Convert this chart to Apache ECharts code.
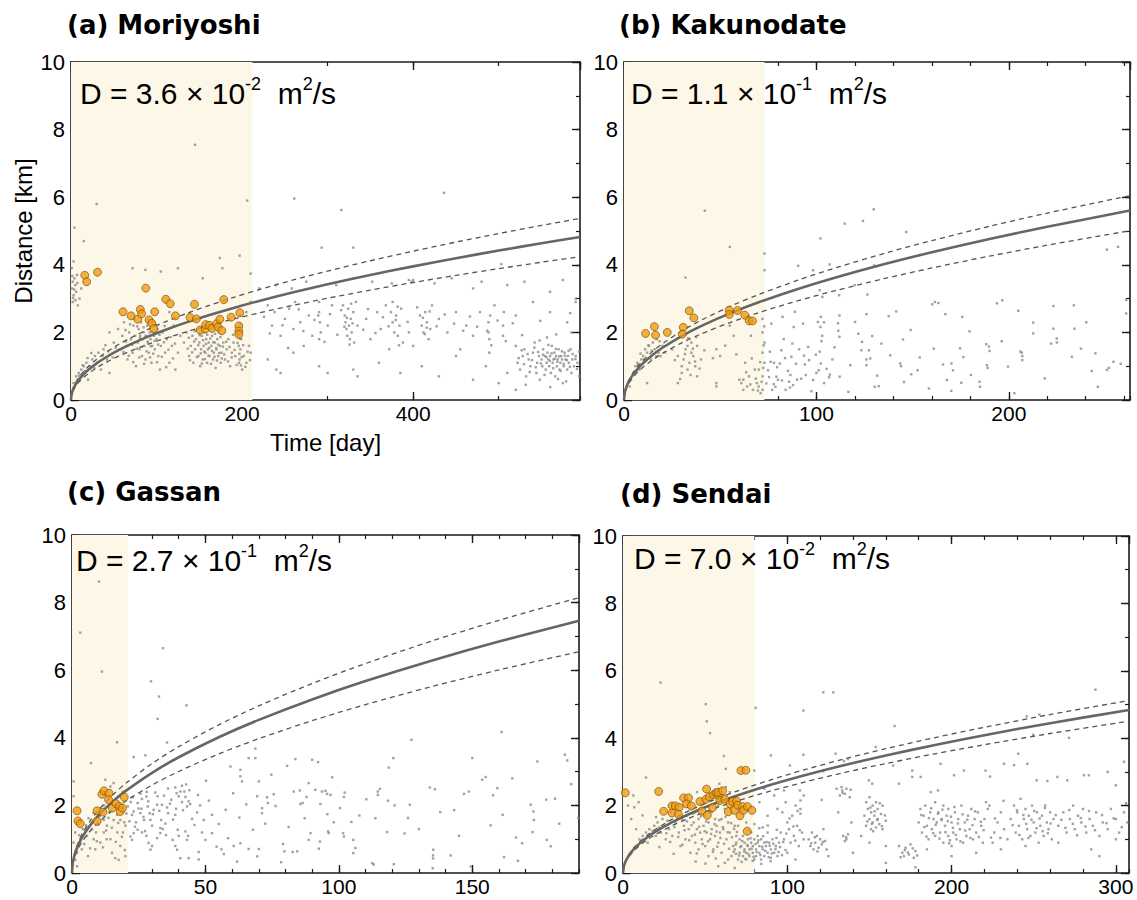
<!DOCTYPE html>
<html><head><meta charset="utf-8">
<script src="https://cdn.jsdelivr.net/npm/echarts@6.0.0/dist/echarts.min.js"></script>
<style>html,body{margin:0;padding:0;background:#fff}#chart{width:1137px;height:900px}</style>
</head><body><div id="chart"></div>
<script>
// ---------------- DATA ----------------
const panelTitles = ['(a) Moriyoshi', '(b) Kakunodate', '(c) Gassan', '(d) Sendai'];
const dCoef = ['3.6', '1.1', '2.7', '7.0'];
const dExp = ['-2', '-1', '-1', '-2'];
const xMaxes = [595, 263, 190, 308];
const xMajorSteps = [200, 100, 50, 100];
const xMinorSteps = [100, 20, 10, 20];
const shadeEnds = [212, 73, 21, 80];
const yTicks = [0, 2, 4, 6, 8, 10];

// fitted diffusion curves (time [day], distance [km])
const tA = [0,0.5,1,2,4,7,10,15,20,30,40,55,70,90,110,135,160,190,220,260,300,350,400,450,500,550,595];
const solidA = [0,0.140,0.198,0.280,0.395,0.523,0.625,0.766,0.884,1.083,1.250,1.466,1.654,1.876,2.073,2.297,2.501,2.725,2.932,3.188,3.424,3.699,3.954,4.194,4.421,4.636,4.822];
const upperA = [0,0.156,0.220,0.311,0.440,0.583,0.696,0.853,0.985,1.206,1.393,1.633,1.842,2.089,2.309,2.558,2.785,3.035,3.266,3.551,3.814,4.120,4.404,4.671,4.924,5.164,5.371];
const lowerA = [0,0.123,0.174,0.246,0.348,0.460,0.550,0.673,0.777,0.952,1.099,1.289,1.454,1.649,1.823,2.019,2.198,2.396,2.578,2.803,3.010,3.251,3.476,3.687,3.886,4.076,4.240];

const tB = [0,0.5,1,2,4,7,10,15,20,30,40,55,70,90,110,135,160,190,220,263];
const solidB = [0,0.244,0.346,0.489,0.691,0.914,1.093,1.338,1.546,1.893,2.186,2.563,2.892,3.279,3.625,4.016,4.372,4.764,5.126,5.605];
const upperB = [0,0.264,0.373,0.527,0.746,0.986,1.179,1.444,1.667,2.042,2.358,2.765,3.119,3.537,3.910,4.332,4.716,5.139,5.529,6.046];
const lowerB = [0,0.218,0.309,0.437,0.618,0.817,0.976,1.196,1.381,1.691,1.953,2.290,2.584,2.930,3.239,3.588,3.906,4.257,4.580,5.008];

const tC = [0,0.25,0.5,1,2,4,7,10,15,20,30,40,55,70,90,110,135,160,190];
const solidC = [0,0.271,0.383,0.541,0.766,1.083,1.432,1.712,2.097,2.421,2.965,3.424,4.015,4.530,5.136,5.678,6.290,6.848,7.463];
const upperC = [0,0.296,0.418,0.591,0.836,1.182,1.564,1.869,2.289,2.643,3.237,3.738,4.383,4.945,5.607,6.198,6.867,7.476,8.146];
const lowerC = [0,0.238,0.336,0.475,0.672,0.950,1.257,1.502,1.840,2.124,2.602,3.004,3.523,3.974,4.506,4.982,5.519,6.008,6.547];

const tD = [0,0.5,1,2,4,7,10,15,20,30,40,55,70,90,110,135,160,190,220,260,308];
const solidD = [0,0.195,0.276,0.390,0.551,0.729,0.872,1.068,1.233,1.510,1.744,2.045,2.307,2.616,2.892,3.203,3.487,3.800,4.089,4.446,4.839];
const upperD = [0,0.206,0.292,0.412,0.583,0.772,0.922,1.129,1.304,1.597,1.844,2.163,2.440,2.766,3.058,3.388,3.689,4.019,4.325,4.702,5.118];
const lowerD = [0,0.182,0.257,0.363,0.513,0.679,0.812,0.994,1.148,1.406,1.624,1.904,2.148,2.435,2.692,2.983,3.247,3.538,3.807,4.139,4.505];

// orange (highlighted) events [day, km]
const orangeA = [[16.1,3.69],[18.3,3.5],[31,3.78],[60.8,2.61],[70.2,2.49],[78,2.39],[81,2.68],[82.6,2.55],[87.4,3.31],[91.2,2.37],[94.4,2.27],[96.7,2.11],[97.9,2.61],[110.8,2.98],[116,2.85],[122.1,2.49],[139.2,2.44],[146.6,2.4],[144.3,2.83],[150.9,2.07],[157,2.1],[157.4,2.23],[161.7,2.21],[164.8,2.12],[170.3,2.26],[171.8,2.16],[174.1,2.39],[176.3,2.05],[178.6,2.97],[187.2,2.45],[197.3,2.58],[196.2,2.19],[196.2,2.04],[196.2,1.94]];
const orangeB = [[11.2,1.97],[15.8,2.17],[16.4,1.92],[22.5,2.0],[30.8,2.15],[30.3,1.95],[33.9,2.64],[36.3,2.43],[54.7,2.66],[54.7,2.53],[59,2.65],[62.8,2.51],[65.1,2.34],[66.8,2.34]];
const orangeC = [[1.9,1.84],[2.2,1.54],[3.1,1.46],[9.4,1.84],[9.4,1.53],[11.6,1.8],[11.2,2.33],[12,2.43],[13.9,2.36],[13.7,2.17],[15.1,1.92],[16.5,2.05],[17.7,1.97],[18.1,1.82],[18.9,1.92],[19.6,2.24]];
const orangeD = [[1.4,2.38],[21.7,2.42],[24.7,1.83],[29.8,1.99],[29.8,1.78],[31.8,1.99],[34.2,1.95],[33.8,1.74],[36.9,2.23],[39.9,2.23],[38.7,2.05],[41.6,1.99],[46.8,2.12],[48,1.84],[50.9,2.49],[50.5,2.19],[51.3,1.71],[52.5,2.26],[54.5,1.94],[55.1,2.32],[56.6,2.38],[58.2,2.3],[57.8,2.4],[60.6,2.44],[59,2.15],[62,2.19],[64.1,1.82],[65.1,2.05],[66.7,2.12],[67.9,1.86],[69.1,2.13],[69.8,2.01],[71.2,1.7],[72.8,1.97],[73.4,1.86],[75.6,1.24],[75.8,1.97],[78.5,1.86],[71.8,3.04],[74.8,3.05]];

// gray (all) events [day, km]
const grayA = [[1,3.3],[2,3.5],[3,3.1],[4,3.6],[2,2.9],[5,3.4],[6,3.2],[3,4.1],[4,5.1],[15,4.7],[30,5.8],[8,2.8],[10,3.0],[12,3.3],[1,3.9],[7,3.7],
[3,0.5],[6,0.7],[9,0.8],[12,0.9],[15,1.0],[18,1.1],[22,1.0],[25,1.2],[28,1.3],[32,1.4],[20,0.6],[35,0.9],[38,1.5],[42,1.2],[45,0.8],
[45,2.0],[50,1.7],[55,2.1],[58,1.5],[60,1.9],[62,2.3],[65,1.6],[66,1.2],[68,2.0],[70,1.8],[72,1.4],[73,2.2],[75,1.9],[76,1.0],[78,1.7],[79,2.1],[80,1.5],[81,1.9],[82,2.3],[83,1.3],[84,1.8],[85,2.0],[86,1.6],[87,1.2],[88,1.9],[89,2.2],[90,1.7],[91,1.4],[92,2.0],[93,1.8],[94,1.1],[95,1.6],[96,2.3],[97,1.9],[98,1.5],[100,1.8],[101,2.1],[102,1.3],[104,0.9],[105,1.6],[107,2.0],[110,1.4],[112,1.8],[115,1.1],[118,1.6],[120,2.2],[122,0.9],[125,1.4],[128,1.9],[115,2.6],[72,3.9],[87,3.85],[105,3.8],[125,3.9],[145,7.55],
[132,1.7],[135,2.0],[138,1.3],[140,1.6],[142,1.9],[143,1.1],[145,1.5],[146,1.8],[148,2.1],[149,1.3],[150,1.7],[151,1.0],[152,1.5],[153,1.9],[154,1.2],[155,1.6],[156,2.0],[157,1.4],[158,1.8],[159,1.1],[160,1.5],[161,1.7],[162,1.3],[163,2.1],[164,1.6],[165,1.9],[166,1.2],[167,1.4],[168,1.7],[169,0.95],[170,1.5],[171,1.8],[172,1.3],[173,2.0],[174,1.6],[175,1.1],[176,1.4],[178,1.7],[180,1.2],[182,1.5],[184,1.8],[186,1.0],[188,1.4],[190,1.7],[192,1.3],[195,1.9],[196,1.6],[197,1.2],[198,2.0],[198,1.5],[199,1.8],[200,0.9],[202,1.3],[205,1.1],[208,1.6],[210,1.4],
[154,3.6],[174,4.2],[177,3.9],[197,4.27],[210,3.74],[206,5.9],[198,2.5],[205,2.6],[185,2.4],[210,2.9],
[261,5.96],[316,5.62],[436,6.13],[293,4.51],[330,4.51],[503,4.02],
[220,3.3],[240,3.4],[258,3.3],[275,3.5],[310,3.4],[330,3.6],[352,3.5],[375,3.45],[395,3.55],[398,3.5],[400,3.55],[425,3.45],[445,3.6],[470,3.3],[480,3.5],[510,3.4],[530,3.5],[560,3.2],[575,3.55],[590,3.0],
[290,2.9],[290,2.6],[291,2.3],[292,2.0],[290,1.8],[289,2.5],
[318,2.8],[320,2.5],[321,2.3],[322,2.1],[323,1.9],[324,2.7],[325,2.2],[326,1.8],[327,2.4],[328,2.0],[330,2.6],[331,1.7],[333,2.9],[335,2.2],
[230,2.8],[235,2.2],[238,2.6],[245,1.9],[250,2.4],[255,2.7],[260,2.1],[262,2.9],[268,2.3],[272,1.6],[278,2.5],[282,1.9],[300,2.2],[305,2.8],[345,2.4],[350,1.8],[358,2.6],[362,2.1],[368,2.8],[372,1.5],
[374,2.6],[376,2.3],[378,2.0],[380,2.5],[382,1.9],[384,2.2],[386,2.7],[388,1.7],[376,2.9],
[408,2.5],[410,2.2],[412,2.0],[414,2.6],[416,2.3],[418,1.8],[420,2.1],[422,2.8],
[395,2.0],[400,1.6],[430,2.4],[440,2.0],[450,2.6],[455,1.5],[462,2.2],[470,1.9],[478,2.6],
[488,2.3],[488,2.0],[489,1.8],[490,2.5],[489,1.4],[505,2.2],[505,1.9],[506,2.6],
[495,2.8],[520,2.5],[540,2.9],[560,2.6],[580,2.3],[590,2.9],[585,2.0],
[230,1.2],[240,0.9],[245,0.8],[260,1.4],[290,1.0],[300,0.8],[330,0.9],[335,0.7],[360,1.1],[385,0.8],[410,1.0],[430,0.7],[450,1.3],[470,0.6],[485,1.0],[500,0.5],[510,0.8],[520,0.3],
[520,1.6],[522,1.1],[525,0.9],[528,1.3],[530,1.5],[532,0.7],[535,1.2],[537,1.0],[540,1.4],[542,1.7],[544,0.8],[545,1.1],[547,1.3],[548,0.6],[550,1.2],[551,1.0],[552,1.5],[554,1.3],[555,0.9],[556,1.1],[557,1.4],[558,1.2],[559,1.0],[560,1.3],[561,0.8],[562,1.6],[563,1.1],[564,1.2],[565,1.4],[566,0.7],[567,1.3],[568,1.0],[569,1.2],[570,1.5],[571,0.9],[572,1.1],[573,1.3],[574,1.2],[575,0.5],[576,1.0],[577,1.4],[578,1.2],[580,0.9],[581,1.3],[582,1.1],[584,1.5],[585,0.8],[586,1.2],[588,1.0],[590,1.3],[592,1.1],[594,0.7],
[61.3,1.42],[63.7,2.07],[64.2,1.73],[67.5,1.31],[69.1,2.24],[71.6,1.63],[72.8,1.12],[74.3,2.41],[76.9,1.52],[77.4,2.18],[79.8,1.26],[80.6,1.83],[82.7,1.57],[84.9,2.15],[85.4,1.07],[86.8,1.88],[88.3,1.44],[89.6,1.72],[90.7,2.36],[92.4,1.26],[93.2,1.59],[94.8,2.03],[96.1,1.37],[97.7,1.75],[99.3,2.22],[100.6,1.12],[101.8,1.64],[103.4,1.93],[106.2,1.28],[108.7,1.71],[109.5,2.19],[111.3,0.97],[113.9,1.49],[116.4,1.86],[119.2,1.23],[121.5,1.67],
[136.4,1.52],[137.8,1.84],[139.1,1.18],[141.6,1.41],[143.9,1.73],[144.7,2.04],[147.2,1.27],[148.8,1.62],[150.3,1.92],[151.7,1.38],[152.9,1.08],[154.4,1.77],[155.8,1.43],[156.6,1.21],[157.9,1.66],[159.2,1.93],[160.7,1.31],[161.5,1.54],[162.8,1.82],[163.6,1.07],[164.9,1.45],[166.3,1.71],[167.7,1.28],[168.4,1.96],[169.8,1.53],[170.6,1.17],[171.9,1.64],[173.3,1.39],[174.7,1.86],[176.2,1.23],[177.5,1.58],[179.1,1.35],[181.4,1.72],[183.6,1.14],[185.3,1.57],[187.9,1.26],[189.4,1.93],[191.2,1.48],[193.7,1.04],[194.6,1.69],[196.8,1.37],[197.4,1.81],[198.6,1.02],[199.5,1.27],[201.3,1.62],[203.8,0.98],[206.4,1.43],[209.1,1.18],[196.5,1.1],[198.2,2.25],
[2.4,3.02],[3.6,3.27],[5.2,2.95],[7.4,3.46],[1.6,3.67],[9.5,0.72],[13.6,1.03],[16.2,0.86],[19.4,1.24],[23.7,1.39],[27.2,0.94],[31.4,1.12],[36.8,1.31],[40.2,1.62],[43.5,1.44],[48.7,1.26],[52.4,1.55],
[225.6,2.46],[232.4,1.97],[247.3,2.21],[253.8,1.54],[266.2,2.68],[271.5,2.04],[284.6,2.37],[296.3,1.72],[302.7,2.54],[311.4,1.93],[315.8,2.66],[319.6,2.17],[322.5,2.43],[325.7,1.64],[327.4,2.85],[329.1,2.27],[341.6,2.08],[347.2,2.69],[355.9,1.98],[364.7,2.45],[371.3,2.18],[379.6,2.37],[381.8,2.76],[383.4,1.62],[393.5,2.31],[404.7,2.74],[411.3,2.43],[413.6,1.95],[415.8,2.14],[419.2,2.62],[427.4,2.18],[436.9,2.53],[447.8,2.26],[458.4,2.05],[466.3,2.47],[474.8,2.17],[486.5,2.05],[491.3,1.62],[498.6,2.35],[508.2,1.74],[516.4,2.27],[527.3,1.92],[548.6,2.34],[567.2,1.94],[583.5,2.57],
[523.4,1.24],[526.8,1.47],[529.5,1.06],[533.7,1.36],[536.2,0.83],[538.9,1.18],[541.6,1.55],[543.3,0.97],[546.1,1.42],[549.4,1.08],[551.8,1.34],[553.5,0.74],[555.7,1.27],[557.9,1.63],[559.6,1.16],[561.7,1.38],[563.8,0.94],[565.6,1.22],[566.9,1.51],[568.4,1.13],[570.7,1.29],[572.3,0.86],[573.9,1.44],[575.8,1.07],[577.4,1.31],[579.6,1.18],[581.7,1.46],[583.2,0.98],[586.4,1.36],[589.7,1.21],[591.5,0.92],[593.8,1.43],[547.8,1.76],[556.4,1.85],[569.3,0.62],[578.8,0.55],[531.6,0.45],[560.2,0.38]];

const grayB = [[5,0.8],[6,1.0],[7,1.1],[8,0.9],[9,1.2],[10,1.3],[11,1.5],[12,1.4],[13,1.6],[14,1.2],[15,1.7],[16,1.5],[17,1.8],[18,1.4],[19,1.3],[20,1.6],[12,0.5],[3,0.4],[25,1.5],[28,1.3],[30,1.0],[30,0.8],[31,1.2],[32,1.5],[33,1.6],[33,0.9],[34,1.1],[35,1.4],[35,1.7],[36,1.3],[37,1.0],[38,0.7],[38,1.6],[40,1.2],[28,0.5],[32,3.62],[42,5.6],[48,1.5],[50,1.3],[48,0.5],[48,0.4],[55,4.53],[55,2.2],[57,1.9],[60,0.6],[61,0.5],[62,0.3],[62,0.6],[63,1.1],[64,0.4],[65,0.7],[66,1.9],[67,0.3],[68,0.9],[69,0.5],[70,0.9],[70,0.4],[71,0.2],[72,0.7],[72,1.4],[72,2.0],[72,2.4],[73,3.84],[73,4.33],[72,0.3],[73,1.1],[73,1.7],
[74,0.49],[74.9,0.88],[75.8,1.43],[76.6,2.26],[78.7,0.39],[79.2,0.69],[81,1.08],[81.8,1.47],[82.4,2.46],[85.8,0.54],[86.5,0.74],[87,1.28],[87.5,1.67],[87.9,0.44],[88.2,2.16],[88.8,2.61],[90.5,3.97],[77,0.3],[78,1.1],[80,0.6],[83,1.8],[84,0.3],[90,0.6],[91,1.5],
[93.1,2.26],[93.6,1.31],[94,1.05],[94.5,0.74],[95.7,1.57],[97.4,0.26],[98.3,0.59],[98.3,3.84],[100,0.8],[101.2,0.88],[101.7,1.43],[101.7,3.25],[102.1,2.16],[102.1,4.78],[102.3,2.46],[102.3,1.08],[103.1,3.05],[103,1.9],[104,2.3],[104,0.5],[106.6,0.67],[106.9,4.01],[108.3,1.2],[107,0.75],[111.4,2.05],[111.8,3.1],[112,1.87],[112.1,0.69],[112,2.5],[114.7,5.22],[116.6,0.24],[119.9,3.4],[120.1,2.31],[123.4,1.47],[123.7,1.72],[124.2,5.3],[126,1.03],[126,1.2],[126,2.54],[126.5,3.12],[128,1.23],[129,1.89],[129.8,5.64],[130,3.98],[130.3,0.39],[132.4,0.41],[133.8,1.67],[137.6,2.48],[141.5,2.62],[143.6,1.08],[144,1.0],[145,1.79],[145.5,0.53],[146.7,4.97],[149,2.07],[149.3,0.76],[153.7,1.26],[158.5,0.34],[160.2,2.83],[161,1.52],[161.6,2.9],[163.4,2.87],[165.8,1.05],[167,2.54],[167.8,0.59],[170.1,0.27],[170.2,1.08],[171,0.88],[174.7,1.53],[175.3,0.51],[175.8,2.46],[179.6,2.03],[180.3,0.74],[184.8,0.54],[185,0.39],[188.3,1.65],[188.6,1.03],[189,0.95],[189.7,1.58],[190,1.45],[193.8,2.86],[196.6,2.95],[199.6,0.99],[202.9,0.2],[204.9,2.64],[206,1.43],[206.8,1.4],[207,1.18],[207,1.3],[212.7,1.97],[212.7,2.29],[222,1.67],[223.2,2.78],[223.2,2.11],[224.9,1.82],[225,1.7],[232.8,1.28],[233.8,2.8],[234.1,2.11],[240.3,2.3],[243.1,0.86],[245,1.38],[246.3,0.39],[251,0.89],[251,4.45],[252,0.95],[254.4,1.13],[256.8,4.53],[261,2.56],[261,2.96],
[7.3,1.04],[8.6,1.37],[10.4,1.18],[12.7,1.62],[14.3,1.46],[16.8,1.29],[18.5,1.74],[21.3,1.41],[26.4,1.18],[29.2,0.62],[31.7,1.36],[33.4,1.83],[34.6,0.74],[35.8,1.52],[36.9,1.14],[37.6,1.86],[39.3,0.93],[41.8,1.47],[46.2,1.24],[52.6,1.61],[58.4,1.35],[63.5,0.82],[65.7,0.46],[66.4,1.23],[68.5,0.63],[69.6,0.28],[70.8,1.12],[71.5,0.54],[72.3,0.95],[72.6,1.62],[72.9,2.18],[75.4,0.68],[76.2,1.13],[77.8,0.47],[79.6,0.97],[82.1,0.58],[83.7,1.24],[85.2,0.86],[86.3,0.37],[89.4,1.07],[92.1,0.63],[96.2,1.18],[99.7,1.34],[100.8,2.31],[102.6,1.74],[105.3,0.92],[109.4,1.56],[111.2,2.27],[117.6,1.03],[121.8,1.96],[127.3,1.47],[131.6,0.72],[138.4,1.32],[152.6,0.88],[176.4,1.27],[196.3,1.74],[218.7,0.64],[237.5,1.52],[258.2,1.07]];

const grayC = [[0.6,0.9],[1.9,0.6],[2.5,0.8],[3.7,0.7],[1.2,1.2],[3.1,1.0],[5.6,1.1],[7.5,1.3],[8.1,1.0],[8.7,0.7],[10.6,0.9],[11.9,1.2],[13.1,1.4],[14.4,1.0],[15,0.6],[16.2,0.44],[17.5,0.39],[18.1,0.8],[19.1,1.2],[18.1,1.57],[16.9,1.72],[15.6,1.57],[11.9,1.57],[10,1.43],[8.1,1.77],[6.2,1.62],[14.4,2.56],[15.6,2.66],[12.5,2.76],[17.5,2.27],[19.6,1.5],[19,1.9],[0.6,2.27],[0.6,2.71],[1.2,0.39],[1.9,0.2],[10.1,8.62],[3.1,7.11],[11.2,5.96],[16.9,3.87],[7.1,3.25],[4,1.3],[6,0.5],[9,1.2],[13,1.0],[17,1.2],[20,0.5],[12,2.0],[14,1.8],[16,2.0],[20,1.4],[19,2.4],
[22.5,1.72],[23.1,1.82],[24.6,2.07],[26.2,2.19],[27.9,2.26],[28.4,1.97],[29.1,1.77],[29.4,1.57],[30.6,1.87],[31.9,2.02],[32.1,2.27],[33.7,2.02],[35.6,1.94],[37.2,2.17],[40,2.27],[40.6,2.41],[41.2,2.1],[42.1,2.41],[42.5,2.25],[43.1,1.97],[43.7,2.12],[46.9,1.79],[47.2,2.31],[38.7,1.72],[36,1.77],[33.4,1.57],[27,1.57],[25.6,1.77],[20.9,1.97],[22,2.1],[24,1.5],[26,1.9],[28,2.4],[34,1.3],[36,2.5],[39,1.9],[44,2.45],[45,1.6],[48,2.0],[30,1.4],
[23.1,3.43],[27.5,3.48],[29.6,5.67],[32.6,5.22],[32.1,4.56],[34.1,6.65],[42.9,4.96],[35.6,3.86],[38.7,2.53],[41.2,2.58],[50.2,2.73],[59.4,3.15],[63.1,2.86],[63.7,2.71],[63.1,3.05],[66.2,3.4],[68.7,3.4],[68.7,3.68],[74.7,2.91],[70,2.71],[80.6,3.17],[83.7,3.37],[90,3.35],[92.2,3.28],[97.5,2.83],
[63.1,0.88],[66.2,0.71],[70,0.71],[69.4,0.49],[61.9,0.34],[56.9,0.56],[56,0.7],[58.5,1.03],[60.6,0.8],[55,1.45],[52.5,1.72],[52.5,1.18],[50,0.98],[48.7,1.2],[47.5,0.62],[47.5,0.4],[43.7,0.44],[40.6,0.44],[39.4,0.69],[38.7,0.8],[37.7,0.98],[39.6,1.28],[40,1.1],[42.5,1.23],[43.5,1.1],[43.1,0.98],[29.4,0.69],[30,0.8],[28.7,0.89],[27.9,1.1],[26.2,1.2],[24.6,1.28],[23.1,1.18],[21.9,1.08],[22.5,0.98],[31.9,1.03],[33.1,1.18],[33.1,1.33],[35,1.46],
[75.6,2.33],[73.1,2.24],[73.4,2.07],[71.2,1.92],[71.2,1.77],[69.4,2.27],[83.1,2.41],[85.4,2.44],[85.6,2.04],[87.9,2.25],[88.7,2.66],[91.2,2.46],[93.7,2.41],[95.6,2.34],[95,2.43],[96.9,2.31],[102.2,2.38],[104.7,1.51],[98.1,1.5],[87.2,1.62],[93.1,2.04],[100.4,1.92],[107.7,1.7],[113.7,1.62],[114.6,2.41],[114.6,2.31],[118.7,3.12],[101.6,1.18],[101.9,1.08],[105.4,0.98],[106.2,0.74],[105.4,0.59],[96,1.23],[96.2,1.18],[92.9,0.93],[92.5,0.72],[89.4,1.18],[88.7,0.98],[84.4,0.64],[82.7,0.62],[79.6,0.64],[79.1,0.86],[78.4,0.32],[112.5,0.29],[113.1,0.25],[101.9,2.25],[115.4,2.49],
[161,4.17],[127.2,3.94],[120.4,3.4],[174.4,3.3],[184.7,3.5],[185.6,3.33],[187.1,2.63],[153.7,2.76],[155,2.84],[134.1,2.53],[136,2.48],[146.9,2.34],[148.7,2.41],[159.4,2.51],[118.4,2.14],[120.9,2],[126.6,2.02],[125.9,1.63],[118.1,1.21],[156.9,1.41],[161.4,1.72],[171.9,2.02],[172.9,1.82],[173.1,1.57],[172.6,1.21],[177.7,2.17],[168.7,0.88],[177.9,0.98],[179.4,0.79],[189.7,1.62],[135.4,0.69],[135.3,0.52],[135.3,0.43],[135.2,0.14],[141.9,0.52],[149.4,0.19],[161.9,0.47],[167.1,0.36],[120.6,0.26],[145,1.1],[130,1.3],[138,1.8],[165,2.8],[181,2.2],[150,3.4],
[2.7,1.12],[4.6,0.86],[5.3,1.41],[6.8,0.73],[7.9,1.52],[9.3,0.94],[10.4,1.68],[11.6,0.76],[12.8,1.26],[13.7,1.63],[14.9,1.34],[16.4,0.92],[17.3,1.48],[18.7,1.07],[19.8,0.68],[20.4,1.76],[21.5,1.53],[22.8,2.24],[23.6,1.37],[24.9,1.91],[25.7,2.35],[26.8,1.66],[27.4,1.24],[28.6,2.12],[30.3,1.74],[31.2,2.38],[32.7,1.84],[34.5,2.29],[35.2,1.12],[36.7,2.05],[37.9,1.58],[39.2,2.36],[41.6,1.86],[42.8,2.62],[44.3,2.04],[45.9,1.42],[49.4,1.57],[51.3,2.14],[54.2,0.78],[57.6,1.87],[60.4,2.36],[62.7,1.64],[65.3,2.03],[67.8,1.28],[72.4,1.46],[76.3,1.98],[81.2,1.36],[86.4,2.07],[95.7,1.74],[110.3,2.18],[124.6,1.17],[143.2,1.86],[157.8,2.3],[166.4,1.05],[182.6,1.46]];

const grayD = [[22.9,5.65],[50.4,5.01],[51,4.5],[53,4.15],[61.4,3.47],[62.6,3.09],[58.6,2.65],[62.6,2.55],[79.9,3.04],[14,2.83],[6.3,2.3],[9.5,2.1],[11.9,1.71],[20.1,1.66],[6.9,1.95],[22.1,0.77],[30.8,0.57],[3,2.0],[5,1.6],[8,1.3],
[10,1.0],[12,1.1],[14,1.2],[15,0.9],[16,1.3],[18,1.25],[19,1.4],[20,1.1],[21,1.5],[22,1.35],[23,1.2],[24,1.6],[25,1.4],[26,1.0],[27,1.55],[28,1.3],[29,1.8],[30,1.1],
[32,1.5],[33,1.9],[34,1.2],[35,0.8],[36,1.6],[37,1.4],[38,1.0],[39,1.7],[40,1.3],[41,0.6],[41,1.9],[42,1.1],[43,1.5],[44,0.9],[44,1.8],[45,1.3],[46,0.7],[46,1.6],[47,1.2],[48,1.9],[48,1.0],[49,1.4],[50,0.8],[50,1.7],[51,1.2],[52,0.5],[52,1.5],[53,1.0],[54,1.8],[54,1.3],[55,0.7],[56,1.6],[56,1.1],[57,1.4],[58,0.9],[58,2.0],[59,1.2],[60,1.6],[60,0.6],[61,1.3],[62,1.9],[63,1.0],[64,1.5],[64,0.4],[65,1.2],[66,1.8],[67,0.8],[68,1.4],[69,1.1],[45,2.4],[50,2.2],[55,2.3],[60,2.5],[65,2.4],[40,2.1],
[66,0.5],[68,0.7],[69,0.9],[70,0.4],[71,0.6],[71,1.0],[72,0.8],[73,0.5],[73,1.1],[74,0.7],[74,0.9],[75,0.6],[75,0.4],[76,0.8],[76,1.0],[77,0.5],[77,0.7],[78,0.9],[78,1.2],[79,0.6],[79,0.8],[80,0.4],[80,1.0],[81,0.7],[81,0.5],[82,0.9],[82,1.1],[83,0.6],[83,0.8],[84,0.4],[84,1.0],[85,0.7],[86,0.9],[86,0.5],[87,0.8],[88,0.6],[88,1.2],[89,0.9],[90,0.7],[90,0.45],[91,1.0],[92,0.6],[93,0.8],[94,0.5],[95,0.9],[70,1.4],[75,1.5],[80,1.45],[85,1.35],[62,0.3],[58,0.2],[68,0.15],
[83,2.1],[86,2.5],[88,1.7],[90,3.49],[92,2.3],[94,1.9],
[80.7,4.9],[109.8,4.82],[121.9,5.36],[128,5.36],[165.3,4.36],[109.8,3.51],[129.4,3.54],[153.8,3.74],[240.6,3.54],[271.5,4.01],[249.7,4.1],[245.7,4.65],[253.4,4.7],[287.6,5.44],[283.6,2.9],
[101.6,3.19],[121.9,3.02],[134.5,3.32],[137,3.38],[176.1,3.04],[176.1,2.85],[181.2,2.85],[193.3,3.24],[201.5,2.9],[207.5,3.04],[220.7,3.04],[223.4,2.86],[231.9,3.24],[238,3.2],[246.1,3.24],[251.8,2.75],[258.3,2.73],[264.4,2.85],[270.4,2.75],[280.6,2.9],[149.7,2.75],[151.7,2.65],[164.5,3.19],[168,2.65],[187.3,2.4],[191.7,2.45],[107.7,2.45],[110,2.3],[98,2.45],[120.9,2.17],[133.5,2.45],[138.6,2.47],[295,3.0],[300,2.6],[305,3.3],
[96,1.2],[97,1.8],[98,1.0],[99,2.1],[100,1.5],[101,1.3],[102,0.9],[103,1.7],[104,1.1],[105,2.0],[106,1.4],[107,0.8],[108,2.15],[108,1.9],[108,1.76],[109,1.2],[110,1.0],
[113,1.0],[114,0.8],[115,1.2],[116,0.7],[117,0.9],[118,1.1],[119,0.75],[120,1.0],[121,0.85],[122,1.3],[123,0.95],[124,0.7],
[130,2.5],[132,2.3],[133,2.55],[135,2.35],[136,2.5],[138,2.25],[134,1.1],[136,1.0],[137,1.15],[135,0.95],[131,1.8],[139,1.5],
[147,1.7],[148,2.1],[148,1.4],[149,1.9],[150,1.6],[150,2.25],[151,1.3],[151,1.8],[152,2.0],[152,1.5],[153,1.7],[154,1.35],[154,2.1],[155,1.6],[155,1.9],[156,1.45],[157,1.75],[158,1.3],[158,2.0],[160,1.55],[145,1.1],[160,0.8],
[168,0.8],[170,0.6],[171,0.5],[172,0.75],[174,0.55],[175,0.85],[177,0.45],[178,0.65],[178,0.17],[179,0.52],[169,0.47],
[180,1.5],[181,1.9],[182,1.2],[183,1.7],[184,2.0],[185,1.4],[186,1.0],[187,1.8],[188,1.3],[189,1.6],[190,2.1],[190,1.1],[191,1.5],[192,1.8],[193,1.2],[194,1.6],[195,2.0],[195,0.9],[196,1.4],[197,1.7],[198,1.1],[198,1.9],[199,0.97],[200,1.5],[200,0.8],[201,1.2],[202,1.8],[203,1.0],[204,1.6],[205,1.3],[206,2.0],[207,0.9],[208,1.5],[209,1.1],[210,1.7],[211,1.3],[212,1.9],[213,1.0],[214,1.6],[215,1.2],[216,1.8],[218,1.4],[219,0.9],[220,1.6],
[221,2.1],[222,1.9],[223,2.0],[224,1.05],[225,0.9],[226,1.2],[228,1.5],[230,1.8],[232,1.3],[234,1.0],
[236,1.6],[238,2.0],[239,1.2],[240,1.8],[241,1.4],[242,2.2],[243,1.0],[244,1.6],[245,1.9],[246,1.3],[247,1.7],[248,1.1],[249,2.0],[250,1.5],[251,1.2],[252,1.8],[253,0.9],[254,1.4],[255,1.7],[256,1.1],[257,2.0],[258,1.5],[259,1.3],[260,1.8],[261,1.0],[262,1.6],
[265,1.4],[268,1.8],[270,1.2],[272,1.6],[274,2.0],[275,1.3],[277,1.7],[279,1.5],[280,1.9],[282,1.2],[284,1.6],[286,1.4],[288,1.8],[290,1.1],[292,1.5],[295,1.3],[297,1.9],[300,1.6],[302,1.2],[305,1.8],[307,1.5],
[140,0.6],[150,0.9],[160,0.3],[185,0.7],[200,0.5],[215,0.6],[230,0.7],[245,0.8],[265,0.9],[285,0.7],[300,1.0],[290,0.5],[125,0.5],[105,0.4],[100,0.6],
[26.4,1.18],[28.7,0.92],[31.3,1.36],[33.6,1.07],[34.8,1.64],[36.2,0.84],[37.5,1.27],[38.9,1.53],[40.3,0.97],[41.7,1.42],[42.6,1.76],[43.8,1.14],[44.9,0.58],[46.3,1.37],[47.5,1.68],[48.4,0.86],[49.7,1.24],[50.6,1.53],[51.8,0.94],[52.9,1.82],[53.6,1.16],[54.8,0.63],[55.7,1.45],[56.9,1.23],[57.4,0.78],[58.6,1.57],[59.3,1.04],[60.8,1.36],[61.5,0.87],[62.4,1.67],[63.7,1.21],[64.6,0.72],[65.8,1.48],[66.3,1.06],[67.6,1.31],[68.8,0.57],[69.4,1.22],[44.2,0.34],[50.2,0.28],[56.5,0.43],[47.3,2.05],[53.4,2.16],
[67.3,0.63],[68.6,0.84],[70.7,0.52],[71.4,0.77],[72.6,0.95],[73.8,0.64],[74.5,0.42],[75.7,0.83],[76.4,0.56],[77.6,1.03],[78.3,0.72],[79.5,0.48],[80.7,0.86],[81.3,0.62],[82.4,0.97],[83.6,0.53],[84.7,0.78],[85.3,1.09],[86.6,0.66],[87.4,0.92],[88.7,0.47],[89.3,0.81],[90.6,0.58],[91.5,0.87],[92.8,0.71],[93.4,1.04],[94.7,0.62],[95.6,0.77],[96.8,0.53],[97.5,0.92],[98.9,0.68],[72.2,0.33],[78.9,0.36],[84.2,0.27],[89.8,0.35],[76.1,1.27],[82.9,1.33],[88.1,1.41],[93.6,1.28],[99.4,1.17],
[101.4,1.62],[103.7,1.38],[104.9,0.96],[106.3,1.84],[107.6,1.27],[114.6,0.88],[116.8,1.06],[118.4,0.64],[121.7,0.92],[133.6,2.38],[135.8,1.06],[148.7,1.53],[150.6,1.94],[151.4,1.46],[153.2,1.83],[154.7,1.58],[156.3,2.07],[157.6,1.39],[159.4,1.71],[152.3,1.24],[171.6,0.68],[173.4,0.61],[176.3,0.73],
[181.6,1.72],[183.4,1.36],[184.7,1.08],[186.2,1.63],[187.6,1.92],[188.8,1.18],[190.3,1.43],[191.7,1.76],[192.6,1.02],[193.8,1.57],[194.4,1.88],[196.3,1.21],[197.7,1.54],[198.5,0.88],[199.6,1.67],[200.8,1.34],[201.7,1.96],[202.6,1.13],[203.9,1.47],[205.4,0.94],[206.7,1.74],[208.3,1.26],[209.6,1.58],[211.4,1.04],[212.7,1.42],[214.3,1.83],[216.6,1.07],[217.8,1.52],[219.5,1.27],
[237.2,1.42],[239.8,1.86],[241.3,1.13],[243.7,1.72],[245.4,1.46],[246.8,1.04],[248.6,1.58],[250.3,1.84],[251.7,1.33],[253.6,1.62],[255.4,1.24],[256.8,1.93],[258.6,1.18],[260.3,1.47],[263.4,1.72],[266.8,1.58],[269.3,1.34],[271.6,1.87],[273.8,1.46],[276.4,1.12],[278.7,1.63],[281.5,1.38],[283.7,1.84],[287.3,1.27],[291.6,1.72],[294.3,1.48],[298.7,1.62],[303.6,1.36],[306.2,2.07],[226.4,1.62],[229.7,1.04],[231.6,2.14]];

// ---------------- LAYOUT / STYLE ----------------
const FONT = '"Liberation Sans", Arial, Helvetica, sans-serif';
const grids = [
  {left: 71, top: 62, width: 509, height: 338},
  {left: 624, top: 62, width: 506, height: 338},
  {left: 72, top: 535, width: 507, height: 338},
  {left: 623, top: 536, width: 506, height: 337}
];
const titlePos = [[67, 12], [619, 12], [67, 479], [620, 481]];
const dPos = [[80, 75], [631, 75], [76, 542], [634, 540]];

const curveT = [tA, tB, tC, tD];
const curveMid = [solidA, solidB, solidC, solidD];
const curveUp = [upperA, upperB, upperC, upperD];
const curveLo = [lowerA, lowerB, lowerC, lowerD];
const grays = [grayA, grayB, grayC, grayD];
const oranges = [orangeA, orangeB, orangeC, orangeD];

function zip(t, r) { return t.map((v, i) => [v, r[i]]); }

const axisColor = '#1a1a1a';
const lineOn = {show: true, onZero: false, lineStyle: {color: axisColor, width: 1.6}};
const lineOff = {show: false, onZero: false};
const tickMaj = {show: true, inside: true, length: 8, lineStyle: {color: axisColor, width: 1.4}};
const tickMin = {show: true, inside: true, length: 4, lineStyle: {color: axisColor, width: 1.2}};
const labelOn = {show: true, fontSize: 22, color: '#000', fontFamily: FONT, margin: 6};
const xLabelOn = {show: true, fontSize: 21, color: '#000', fontFamily: FONT, margin: 3, lineHeight: 21, showMaxLabel: false};
const noLabel = {show: false};
const nameStyle = {fontSize: 24, color: '#000', fontFamily: FONT};

const xAxis = [], yAxis = [], series = [], graphic = [];
grids.forEach((g, i) => {
  const base = {type: 'value', gridIndex: i, splitLine: {show: false}, silent: true, axisPointer: {show: false}};
  const xb = Object.assign({}, base, {min: 0, max: xMaxes[i]});
  xAxis.push(Object.assign({}, xb, {position: 'bottom', interval: xMajorSteps[i], axisLine: lineOn, axisTick: tickMaj,
    axisLabel: xLabelOn,
    name: i === 0 ? 'Time [day]' : '', nameLocation: 'middle', nameGap: 30, nameTextStyle: nameStyle}));
  xAxis.push(Object.assign({}, xb, {position: 'bottom', interval: xMinorSteps[i], axisLine: lineOff, axisTick: tickMin, axisLabel: noLabel}));
  xAxis.push(Object.assign({}, xb, {position: 'top', interval: xMajorSteps[i], axisLine: lineOn, axisTick: tickMaj, axisLabel: noLabel}));
  xAxis.push(Object.assign({}, xb, {position: 'top', interval: xMinorSteps[i], axisLine: lineOff, axisTick: tickMin, axisLabel: noLabel}));
  const yb = Object.assign({}, base, {min: yTicks[0], max: yTicks[yTicks.length - 1]});
  yAxis.push(Object.assign({}, yb, {position: 'left', interval: 2, axisLine: lineOn, axisTick: tickMaj, axisLabel: labelOn,
    name: i === 0 ? 'Distance [km]' : '', nameLocation: 'middle', nameGap: 36, nameRotate: 90, nameTextStyle: nameStyle}));
  yAxis.push(Object.assign({}, yb, {position: 'left', interval: 1, axisLine: lineOff, axisTick: tickMin, axisLabel: noLabel}));
  yAxis.push(Object.assign({}, yb, {position: 'right', interval: 2, axisLine: lineOn, axisTick: tickMaj, axisLabel: noLabel}));
  yAxis.push(Object.assign({}, yb, {position: 'right', interval: 1, axisLine: lineOff, axisTick: tickMin, axisLabel: noLabel}));

  const ax = {xAxisIndex: 4 * i, yAxisIndex: 4 * i};
  series.push(Object.assign({type: 'scatter', data: [], z: 1, silent: true,
    markArea: {silent: true, label: {show: false}, itemStyle: {color: '#fdf7e8', borderWidth: 0},
      data: [[{xAxis: 0, yAxis: yTicks[0]}, {xAxis: shadeEnds[i], yAxis: yTicks[yTicks.length - 1]}]]}}, ax));
  series.push(Object.assign({type: 'scatter', data: grays[i], symbol: 'rect', symbolSize: 2.4, z: 2, silent: true,
    itemStyle: {color: '#8a8a8a'}}, ax));
  const lineBase = {type: 'line', showSymbol: false, smooth: 0.3, z: 3, silent: true};
  series.push(Object.assign({}, lineBase, {data: zip(curveT[i], curveUp[i]), lineStyle: {color: '#555', width: 1.3, type: [5, 4]}}, ax));
  series.push(Object.assign({}, lineBase, {data: zip(curveT[i], curveLo[i]), lineStyle: {color: '#555', width: 1.3, type: [5, 4]}}, ax));
  series.push(Object.assign({}, lineBase, {data: zip(curveT[i], curveMid[i]), lineStyle: {color: '#666666', width: 2.6}}, ax));
  series.push(Object.assign({type: 'scatter', data: oranges[i], symbol: 'circle', symbolSize: 8, z: 5, silent: true,
    itemStyle: {color: '#f29b0c', borderColor: '#6b4a12', borderWidth: 0.8}}, ax));

  graphic.push({type: 'text', left: titlePos[i][0], top: titlePos[i][1], z: 10,
    style: {text: panelTitles[i], fontSize: 26, fontWeight: 'bold', fontFamily: '"DejaVu Sans", sans-serif', fill: '#000'}});
  graphic.push({type: 'text', left: dPos[i][0], top: dPos[i][1], z: 10,
    style: {text: '{m|D = ' + dCoef[i] + ' × 10}{s|' + dExp[i] + '}{m|  m}{s|2}{m|/s}',
      rich: {m: {fontSize: 30, fontFamily: FONT, fill: '#000', lineHeight: 36},
             s: {fontSize: 18, fontFamily: FONT, fill: '#000', verticalAlign: 'top'}}}});
});

const option = {
  animation: false,
  backgroundColor: '#ffffff',
  grid: grids.map(g => Object.assign({containLabel: false, outerBoundsMode: 'none'}, g)),
  xAxis, yAxis, series, graphic
};
const chart = echarts.init(document.getElementById('chart'), null, {renderer: 'svg'});
chart.setOption(option);
</script></body></html>
